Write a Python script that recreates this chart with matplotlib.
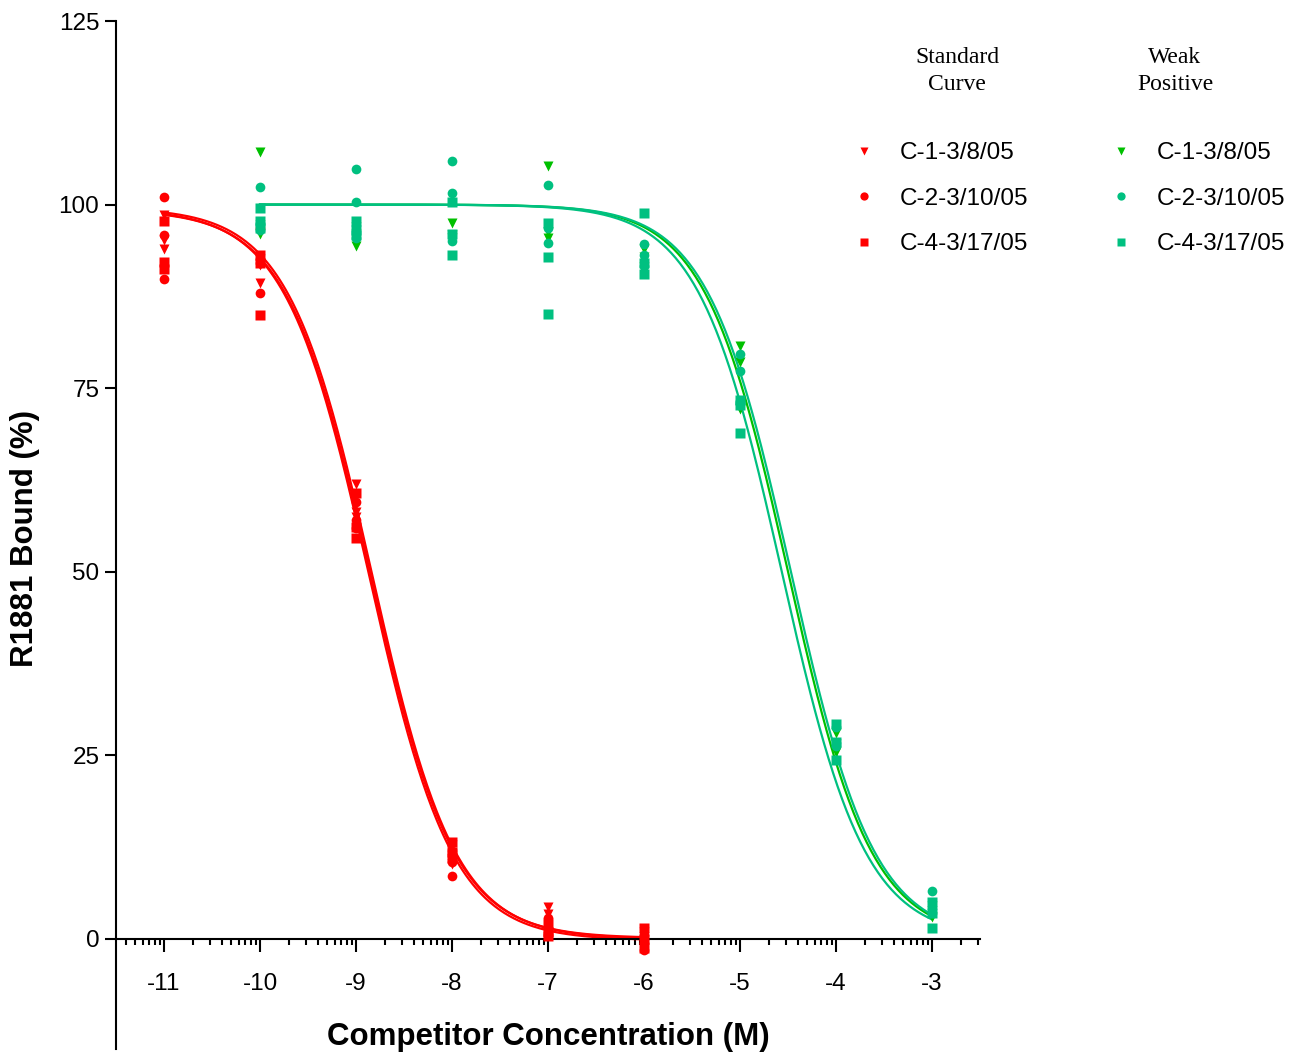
import numpy as np
import matplotlib
matplotlib.use("Agg")
import matplotlib.pyplot as plt
from matplotlib.ticker import FixedLocator, NullFormatter

plt.rcParams['font.family'] = ['Liberation Sans', 'DejaVu Sans']
plt.rcParams['axes.unicode_minus'] = False

# --- data (log M, % bound) ---
std_x = [-11] * 3 + [-10] * 3 + [-9] * 3 + [-8] * 3 + [-7] * 3 + [-6] * 3
std_c1 = [98.6, 95.2, 93.9, 92.6, 89.3, 91.8, 61.9, 58.2, 57.5,
          12.8, 11.5, 10.2, 4.3, 3.4, 2.2, 1.0, 0.2, -0.8]
std_c2 = [101.0, 95.9, 89.8, 96.8, 92.0, 88.0, 59.5, 57.0, 56.0,
          12.0, 10.5, 8.5, 2.8, 1.5, 0.5, 0.5, -0.5, -1.5]
std_c4 = [97.7, 92.2, 91.2, 93.2, 92.1, 85.0, 60.7, 56.1, 54.6,
          13.2, 11.8, 11.0, 2.0, 1.0, 0.4, 1.5, 0.0, -1.2]

weak_x = ([-10] * 3 + [-9] * 3 + [-8] * 3 + [-7] * 3 +
          [-6] * 3 + [-5] * 3 + [-4] * 3 + [-3] * 3)
weak_c1 = [107.1, 97.2, 96.0, 94.3, 96.0, 97.0, 97.5, 95.8, 95.5,
           105.2, 96.2, 95.5, 94.0, 92.8, 91.5, 80.8, 78.6, 72.1,
           28.0, 26.5, 25.5, 4.5, 3.8, 3.0]
weak_c2 = [102.4, 97.5, 96.6, 104.8, 100.3, 95.5, 105.9, 101.6, 95.0,
           102.6, 94.8, 96.8, 94.6, 93.2, 91.6, 79.6, 77.4, 73.0,
           28.8, 26.7, 26.2, 6.5, 4.2, 3.5]
weak_c4 = [99.6, 97.7, 96.8, 97.7, 96.5, 95.8, 100.3, 93.2, 96.0,
           97.5, 92.8, 85.1, 98.9, 90.5, 92.0, 73.4, 72.7, 68.9,
           29.3, 26.8, 24.4, 5.0, 3.5, 1.5]

# fitted one-site competition parameters: top, bottom, logIC50
std_fits = [(99.6, 0.0, -8.835), (99.4, -0.2, -8.865), (99.3, 0.1, -8.85)]
weak_fits = [(100.0, 0.0, -4.50), (100.0, 0.0, -4.47), (100.0, 0.0, -4.565)]

labels = ['C-1-3/8/05', 'C-2-3/10/05', 'C-4-3/17/05']
markers = ['v', 'o', 's']
red = '#FF0000'
green = '#00C000'
teal = '#00C080'
weak_colors = [green, teal, teal]


def logistic(x, top, bottom, logic50):
    return bottom + (top - bottom) / (1 + 10 ** (x - logic50))


fig = plt.figure(figsize=(13.06, 10.57), dpi=100)
ax = fig.add_axes([116 / 1306, 1 - 1049 / 1057, 864 / 1306, 1028 / 1057])

# curves
xs = np.linspace(-11, -6, 300)
for top, bot, lic in std_fits:
    ax.plot(xs, logistic(xs, top, bot, lic), color=red, lw=1.6, zorder=2)
xw = np.linspace(-10, -3, 300)
for (top, bot, lic), c in zip(weak_fits, weak_colors):
    ax.plot(xw, logistic(xw, top, bot, lic), color=c, lw=1.6, zorder=2)

# points
std_handles = []
for ys, m, lab in zip([std_c1, std_c2, std_c4], markers, labels):
    h, = ax.plot(std_x, ys, ls='none', marker=m, ms=7, color=red,
                 mec='none', label=lab, zorder=3)
    std_handles.append(h)
weak_handles = []
for ys, m, lab, c in zip([weak_c1, weak_c2, weak_c4], markers, labels, weak_colors):
    h, = ax.plot(weak_x, ys, ls='none', marker=m, ms=7, color=c,
                 mec='none', label=lab, zorder=3)
    weak_handles.append(h)

# axes styling
ax.set_xlim(-11.5, -2.5)
ax.set_ylim(-15, 125)
ax.spines['top'].set_visible(False)
ax.spines['right'].set_visible(False)
ax.spines['bottom'].set_position(('data', 0))
for s in ['left', 'bottom']:
    ax.spines[s].set_linewidth(1.5)
ax.spines['left'].set_bounds(-15, 125)

ax.set_xticks(np.arange(-11, -2))
ax.set_yticks([0, 25, 50, 75, 100, 125])
minor = [k + np.log10(m) for k in range(-12, -2) for m in range(2, 10)]
minor = [v for v in minor if -11.5 <= v <= -2.5]
ax.xaxis.set_minor_locator(FixedLocator(minor))
ax.xaxis.set_minor_formatter(NullFormatter())
ax.tick_params(axis='x', which='major', length=9, width=1.5, pad=15.5,
               labelsize=17.5, direction='out')
ax.tick_params(axis='x', which='minor', length=4.5, width=1.5, direction='out')
ax.tick_params(axis='y', which='major', length=8, width=1.5, pad=4,
               labelsize=17.5, direction='out')

ax.set_xlabel('Competitor Concentration (M)', fontsize=22.5, fontweight='bold')
ax.xaxis.set_label_coords(0.5, 0.0112)
ax.xaxis.label.set_va('center')
ax.set_ylabel('R1881 Bound (%)', fontsize=22.5, fontweight='bold')
ax.yaxis.set_label_coords(-0.105, 0.497)
ax.yaxis.label.set_va('center')

# legend blocks
serif = ['Liberation Serif', 'DejaVu Serif']
fig.text(957 / 1306, 1 - 71 / 1057, 'Standard\nCurve', family=serif,
         fontsize=17, ha='center', va='center', linespacing=1.35)
fig.text(1175 / 1306, 1 - 71 / 1057, 'Weak\nPositive', family=serif,
         fontsize=17, ha='center', va='center', linespacing=1.35)

leg_kw = dict(loc='upper left', frameon=False, fontsize=17.5, handlelength=1.0,
              handletextpad=0.95, labelspacing=0.97, borderpad=0,
              borderaxespad=0, markerscale=0.85)
fig.legend(handles=std_handles, bbox_to_anchor=(852 / 1306, 1 - 142 / 1057), **leg_kw)
fig.legend(handles=weak_handles, bbox_to_anchor=(1109 / 1306, 1 - 142 / 1057), **leg_kw)

fig.savefig('out.png', dpi=100)
